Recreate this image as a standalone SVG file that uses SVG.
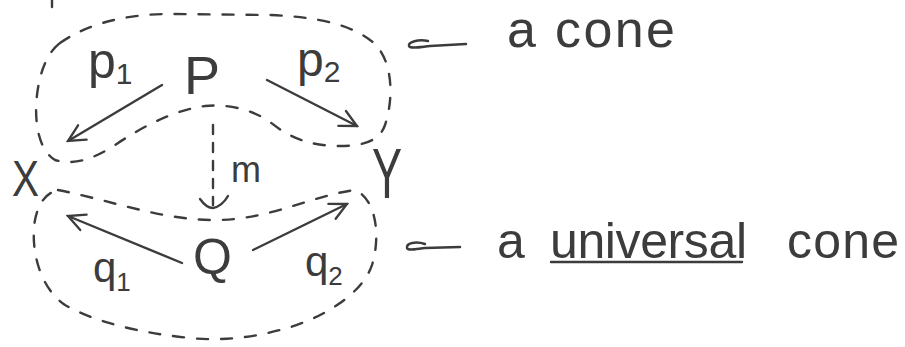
<svg xmlns="http://www.w3.org/2000/svg" width="905" height="347" viewBox="0 0 905 347">
<style>
.ink{fill:none;stroke:#3c3c3c;stroke-width:2.4;stroke-linecap:round;stroke-linejoin:round}
.dash{fill:none;stroke:#3c3c3c;stroke-width:2.4;stroke-linecap:round;stroke-dasharray:11 13}
.t{font-family:"Liberation Sans","DejaVu Sans",sans-serif;fill:#3c3c3c}
</style>
<defs>
<marker id="ah" viewBox="0 0 12 12" refX="11" refY="6" markerWidth="20" markerHeight="20" markerUnits="userSpaceOnUse" orient="auto">
<path d="M1,1 L11,6 L1,11" fill="none" stroke="#3c3c3c" stroke-width="1.4" stroke-linecap="round"/>
</marker>
</defs>
<rect width="905" height="347" fill="#ffffff"/>
<path class="ink" d="M52,0 L52,7"/>
<g id="cones">
<path id="cone" class="dash" d="M60,43 C90,22 130,14 170,14 L270,15 C320,17 350,25 370,40 C392,55 395,95 385,125 C380,140 365,146 340,146 C310,146 290,138 270,122 C250,108 225,104 205,106 C175,110 145,125 115,145 C95,158 75,166 55,160 C38,150 34,120 37,95 C40,70 48,52 60,43 Z"/>
<path id="ucone" class="dash" d="M58,190 C110,200 160,220 215,220 C270,220 310,196 355,190 C378,200 380,240 372,265 C362,295 320,320 280,330 C250,338 220,341 190,338 C140,333 95,322 65,305 C40,288 30,250 35,220 C38,205 45,193 58,190 Z"/>
</g>
<g id="nodeP"><text class="t" x="184" y="94" font-size="54">P</text></g>
<g id="nodeQ"><text class="t" x="193" y="274" font-size="50">Q</text></g>
<g id="nodeX"><text class="t" x="12" y="196" font-size="50" textLength="27" lengthAdjust="spacingAndGlyphs">X</text></g>
<g id="nodeY"><text class="t" x="372" y="198" font-size="70" textLength="30" lengthAdjust="spacingAndGlyphs">Y</text></g>
<g id="connectors">
<path class="ink" d="M162,85 L68,141" marker-end="url(#ah)"/>
<path class="ink" d="M267,80 L357,126" marker-end="url(#ah)"/>
<path class="dash" d="M213,125 L213,205" style="stroke-dasharray:9 9"/>
<path class="ink" d="M200,199 C205,206 210,208 213,208 C218,207 224,203 228,196"/>
<path class="ink" d="M182,263 L68,216" marker-end="url(#ah)"/>
<path class="ink" d="M253,250 L347,204" marker-end="url(#ah)"/>
</g>
<g id="labels">
<text class="t" x="88" y="78" font-size="50">p<tspan font-size="30" dy="6">1</tspan></text>
<text class="t" x="297" y="76" font-size="48">p<tspan font-size="30" dy="6">2</tspan></text>
<text class="t" x="231" y="182" font-size="36">m</text>
<text class="t" x="93" y="282" font-size="42">q<tspan font-size="26" dy="9">1</tspan></text>
<text class="t" x="305" y="276" font-size="42">q<tspan font-size="26" dy="9">2</tspan></text>
</g>
<g id="note1">
<path class="ink" d="M466,44 L430,46 C420,47 410,49 409,46 C408,42 418,39 428,41"/>
<text class="t" x="507" y="47" font-size="52" textLength="168" lengthAdjust="spacing">a cone</text>
</g>
<g id="note2">
<path class="ink" d="M460,247 L425,248 C416,249 408,251 407,248 C406,243 416,241 425,244"/>
<text class="t" x="497" y="258" font-size="50">a</text>
<text class="t" x="550" y="258" font-size="50" textLength="197" lengthAdjust="spacing">universal</text>
<path class="ink" d="M551,262 L742,262"/>
<text class="t" x="787" y="258" font-size="50" textLength="112" lengthAdjust="spacing">cone</text>
</g>
</svg>
